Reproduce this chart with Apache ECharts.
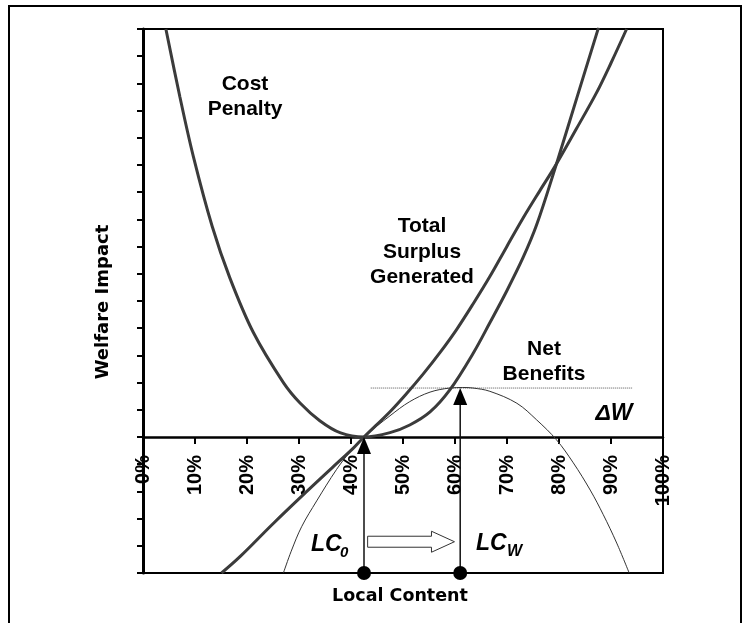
<!DOCTYPE html>
<html>
<head>
<meta charset="utf-8">
<script src="https://cdn.jsdelivr.net/npm/echarts@6/dist/echarts.min.js"></script>
<style>
  html, body { margin: 0; padding: 0; background: #fff; overflow: hidden; }
  #chart { width: 751px; height: 623px; }
</style>
</head>
<body>
<div id="chart"></div>
<script>
// x = local content (%), y = welfare impact (tick units, 0 = x axis)
const costPenalty = [
  [4.4, 15.0], [7.1, 12.5], [9.7, 10.3], [13.3, 7.75], [16.7, 5.85], [21.2, 3.85],
  [27.0, 2.0], [30.2, 1.25], [34.0, 0.6], [38.0, 0.15], [42.5, 0.0], [47.5, 0.16],
  [51.3, 0.44], [55.2, 0.92], [59.0, 1.73], [63.5, 3.08], [66.7, 4.2], [69.9, 5.35],
  [73.1, 6.6], [75.7, 7.8], [79.2, 9.85], [83.4, 12.45], [87.6, 15.05]
];
const totalSurplus = [
  [15.1, -5.0], [18.65, -4.4], [25.1, -3.17], [31.5, -2.0], [36.6, -1.09], [40.4, -0.42],
  [42.5, 0.0], [47.5, 0.93], [50.7, 1.6], [53.9, 2.32], [57.1, 3.1], [60.3, 3.95],
  [63.5, 4.9], [66.7, 5.9], [69.9, 6.98], [73.1, 8.05], [76.3, 9.05], [79.2, 9.94],
  [83.4, 11.35], [87.2, 12.65], [90.0, 13.75], [93.0, 15.0]
];
const netBenefits = [
  [27.0, -5.0], [28.5, -4.2], [30.5, -3.3], [33.4, -2.35], [37.2, -1.2], [39.8, -0.55],
  [42.5, 0.0], [47.5, 0.78], [51.3, 1.3], [55.2, 1.65], [59.0, 1.8], [61.5, 1.82],
  [63.5, 1.8], [66.7, 1.68], [71.9, 1.24], [75.7, 0.63], [79.5, -0.1], [82.75, -0.95],
  [86.0, -1.95], [88.5, -2.85], [91.1, -3.9], [93.5, -5.0]
];
const deltaWLine = [[43.8, 1.8], [94.2, 1.8]];
// [x, from y, to y]
const lcArrows = [[42.5, -5, 0], [61.0, -5, 1.8]];
// [from x, to x, y]
const shiftArrow = [[43.2, 59.9, -3.85]];
const xTicks = { min: 0, max: 100, step: 10 };
const yTicks = { min: -5, max: 15, step: 1 };

const font = '"Liberation Sans", Arial, sans-serif';
const curveColor = '#3b3b3b';

const chart = echarts.init(document.getElementById('chart'));

function renderLcArrow(params, api) {
  const base = api.coord([api.value(0), api.value(1)]);
  const tip = api.coord([api.value(0), api.value(2)]);
  const headH = 17, headW = 7;
  return {
    type: 'group',
    children: [
      { type: 'line', shape: { x1: base[0], y1: base[1], x2: tip[0], y2: tip[1] + headH },
        style: { stroke: '#111', lineWidth: 1.5 } },
      { type: 'polygon',
        shape: { points: [[tip[0], tip[1]], [tip[0] - headW, tip[1] + headH], [tip[0] + headW, tip[1] + headH]] },
        style: { fill: '#000' } },
      { type: 'circle', shape: { cx: base[0], cy: base[1], r: 7 }, style: { fill: '#000' } }
    ]
  };
}

function renderShiftArrow(params, api) {
  const s = api.coord([api.value(0), api.value(2)]);
  const e = api.coord([api.value(1), api.value(2)]);
  const y = s[1], hb = e[0] - 23;
  return {
    type: 'polygon',
    shape: { points: [
      [s[0], y - 5.5], [hb, y - 5.5], [hb, y - 10.5], [e[0], y],
      [hb, y + 10.5], [hb, y + 5.5], [s[0], y + 5.5]
    ] },
    style: { fill: '#fff', stroke: '#333', lineWidth: 1 }
  };
}

const boldText = (text, x, y, size, extra) => ({
  type: 'text',
  x: x, y: y,
  style: Object.assign({
    text: text,
    font: 'bold ' + size + 'px ' + font,
    fill: '#000',
    align: 'center',
    verticalAlign: 'middle'
  }, extra || {})
});

chart.setOption({
  animation: false,
  backgroundColor: '#fff',
  grid: {
    left: 143, right: 88, top: 29, bottom: 50,
    outerBoundsMode: 'none',
    show: true, borderColor: '#000', borderWidth: 2
  },
  xAxis: {
    type: 'value',
    min: xTicks.min, max: xTicks.max, interval: xTicks.step,
    offset: -136, // sits on the zero line of the welfare axis
    axisLine: { onZero: false, lineStyle: { color: '#000', width: 2.5 } },
    axisTick: { length: 7, lineStyle: { color: '#000', width: 2 } },
    axisLabel: {
      rotate: 90, margin: 18, formatter: '{value}%',
      color: '#000', fontWeight: 'bold', fontSize: 20, fontFamily: font,
      showMinLabel: true, showMaxLabel: true
    },
    splitLine: { show: false }
  },
  yAxis: {
    type: 'value',
    min: yTicks.min, max: yTicks.max, interval: yTicks.step,
    axisLine: { show: true, onZero: false, lineStyle: { color: '#000', width: 3 } },
    axisTick: { show: true, length: 6, lineStyle: { color: '#000', width: 2 } },
    axisLabel: { show: false },
    splitLine: { show: false }
  },
  series: [
    { name: 'Cost Penalty', type: 'line', data: costPenalty, smooth: 0.35, showSymbol: false,
      lineStyle: { color: curveColor, width: 3 }, z: 4 },
    { name: 'Total Surplus Generated', type: 'line', data: totalSurplus, smooth: 0.35, showSymbol: false,
      lineStyle: { color: curveColor, width: 3 }, z: 4 },
    { name: 'Net Benefits', type: 'line', data: netBenefits, smooth: 0.35, showSymbol: false,
      lineStyle: { color: '#333', width: 1 }, z: 3 },
    { name: 'ΔW', type: 'line', data: deltaWLine, showSymbol: false,
      lineStyle: { color: '#555', width: 1, type: [1, 1] }, z: 2 },
    { type: 'custom', data: lcArrows, renderItem: renderLcArrow, clip: false, z: 5 },
    { type: 'custom', data: shiftArrow, renderItem: renderShiftArrow, clip: false, z: 5 }
  ],
  graphic: [
    { type: 'rect', shape: { x: 9, y: 6, width: 732, height: 640 },
      style: { fill: 'none', stroke: '#000', lineWidth: 2 }, z: 10 },
    boldText('Cost\nPenalty', 245, 97, 21, { lineHeight: 25 }),
    boldText('Total\nSurplus\nGenerated', 422, 252, 21, { lineHeight: 25.5 }),
    boldText('Net\nBenefits', 544, 362, 21, { lineHeight: 25 }),
    { type: 'text', x: 614, y: 414,
      style: { text: 'ΔW', font: 'italic bold 23px ' + font, fill: '#000', align: 'center', verticalAlign: 'middle' } },
    { type: 'text', x: 311, y: 545,
      style: { text: 'LC', font: 'italic bold 23px ' + font, fill: '#000', align: 'left', verticalAlign: 'middle' } },
    { type: 'text', x: 340, y: 553,
      style: { text: '0', font: 'italic bold 15px ' + font, fill: '#000', align: 'left', verticalAlign: 'middle' } },
    { type: 'text', x: 476, y: 544,
      style: { text: 'LC', font: 'italic bold 23px ' + font, fill: '#000', align: 'left', verticalAlign: 'middle' } },
    { type: 'text', x: 507, y: 552,
      style: { text: 'W', font: 'italic bold 16px ' + font, fill: '#000', align: 'left', verticalAlign: 'middle' } },
    { type: 'text', x: 103, y: 302, rotation: Math.PI / 2,
      style: { text: 'Welfare Impact', font: 'bold 18px "DejaVu Sans", sans-serif', fill: '#000',
        align: 'center', verticalAlign: 'middle' } },
    { type: 'text', x: 400, y: 596,
      style: { text: 'Local Content', font: 'bold 17.5px "DejaVu Sans", sans-serif', fill: '#000',
        align: 'center', verticalAlign: 'middle' } }
  ]
});
</script>
</body>
</html>
